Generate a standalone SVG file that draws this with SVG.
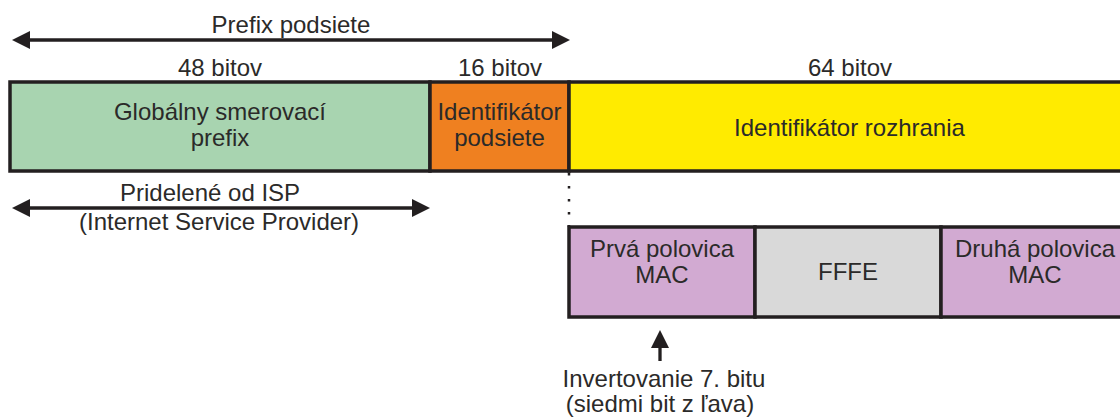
<svg xmlns="http://www.w3.org/2000/svg" width="1120" height="419" viewBox="0 0 1120 419">
  <style>
    text { font-family: "Liberation Sans", Arial, sans-serif; font-size: 24px; fill: #2b2a29; }
    .c { text-anchor: middle; }
    .box { stroke: #231f20; stroke-width: 3.5; }
    .arrow { stroke: #231f20; stroke-width: 3.3; fill: none; }
  </style>
  <defs>
    <marker id="ah" markerUnits="userSpaceOnUse" viewBox="0 0 18 18" markerWidth="18" markerHeight="18" refX="1" refY="9" orient="auto-start-reverse">
      <path d="M0,0 L18,9 L0,18 z" fill="#231f20"/>
    </marker>
  </defs>
  <rect width="1120" height="419" fill="#ffffff"/>

  <g id="labels-top">
    <text class="c" x="291" y="33">Prefix podsiete</text>
    <text class="c" x="220" y="76">48 bitov</text>
    <text class="c" x="500" y="76">16 bitov</text>
    <text class="c" x="850" y="76">64 bitov</text>
  </g>

  <g id="global-prefix">
    <rect class="box" x="10" y="82" width="420" height="89" fill="#a8d4b0"/>
    <text class="c" x="220" y="120">Globálny smerovací</text>
    <text class="c" x="220" y="146">prefix</text>
  </g>
  <g id="subnet-id">
    <rect class="box" x="430" y="82" width="139" height="89" fill="#ef8020"/>
    <text class="c" x="499.5" y="120">Identifikátor</text>
    <text class="c" x="499.5" y="146">podsiete</text>
  </g>
  <g id="interface-id">
    <rect class="box" x="569" y="82" width="561" height="89" fill="#ffeb00"/>
    <text class="c" x="849.5" y="136">Identifikátor rozhrania</text>
  </g>

  <g id="isp-label">
    <text x="120" y="201">Pridelené od ISP</text>
    <text x="79" y="230">(Internet Service Provider)</text>
  </g>

  <g id="mac-first">
    <rect class="box" x="569" y="227" width="186" height="90" fill="#d2aad2"/>
    <text class="c" x="662" y="257">Prvá polovica</text>
    <text class="c" x="662" y="283">MAC</text>
  </g>
  <g id="fffe">
    <rect class="box" x="755" y="227" width="186" height="90" fill="#d9d9d9"/>
    <text class="c" x="848" y="280">FFFE</text>
  </g>
  <g id="mac-second">
    <rect class="box" x="941" y="227" width="189" height="90" fill="#d2aad2"/>
    <text class="c" x="1035" y="257">Druhá polovica</text>
    <text class="c" x="1035" y="283">MAC</text>
  </g>

  <g id="invert-label">
    <text class="c" x="664" y="387">Invertovanie 7. bitu</text>
    <text class="c" x="660" y="412">(siedmi bit z ľava)</text>
  </g>

  <g id="connectors">
    <line class="arrow" x1="29" y1="40" x2="553" y2="40" marker-start="url(#ah)" marker-end="url(#ah)"/>
    <line class="arrow" x1="29" y1="208" x2="413" y2="208" marker-start="url(#ah)" marker-end="url(#ah)"/>
    <line class="arrow" x1="660" y1="361" x2="660" y2="347" marker-end="url(#ah)"/>
    <line x1="569" y1="173" x2="569" y2="227" stroke="#231f20" stroke-width="2.5" stroke-dasharray="2.5 10.5"/>
  </g>
</svg>
